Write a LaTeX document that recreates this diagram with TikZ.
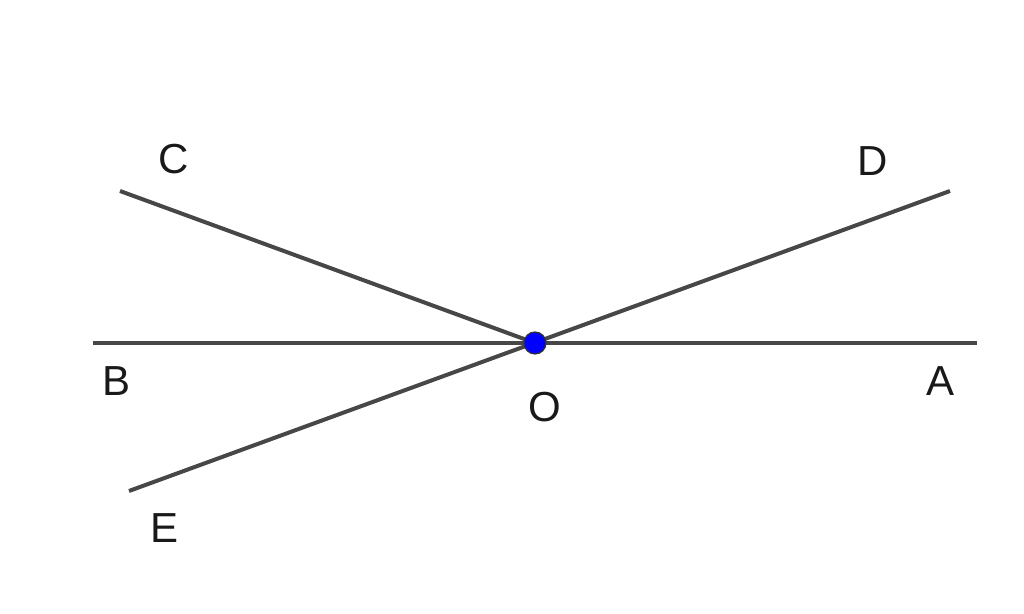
\documentclass[tikz,border=0pt]{standalone}
\usepackage{fontspec}
\setmainfont{Liberation Sans}
\begin{document}
\begin{tikzpicture}[x=0.5pt,y=-0.5pt,
  seg/.style={draw=black!72, line width=2pt},
  lbl/.style={font=\fontsize{21}{24}\selectfont, text=black!90, inner sep=0pt},
  pt/.style={circle, fill=blue, draw=black!80, line width=0.6pt, minimum size=11pt, inner sep=0pt}]
\useasboundingbox (0,0) rectangle (1024,614);
\coordinate (O) at (535,343);
\coordinate (A) at (977,343);
\coordinate (B) at (93,343);
\coordinate (C) at (120,191);
\coordinate (D) at (950,191);
\coordinate (E) at (129,491);
\draw[seg] (B) -- (A);
\draw[seg] (C) -- (O);
\draw[seg] (E) -- (D);
\node[pt] (Op) at (O) {};
\node[lbl] (lC) at (174,159) {C};
\node[lbl] (lD) at (873,161) {D};
\node[lbl] (lB) at (117,381) {B};
\node[lbl] (lA) at (940,381) {A};
\node[lbl] (lO) at (545,407) {O};
\node[lbl] (lE) at (165,528) {E};
\end{tikzpicture}
\end{document}
